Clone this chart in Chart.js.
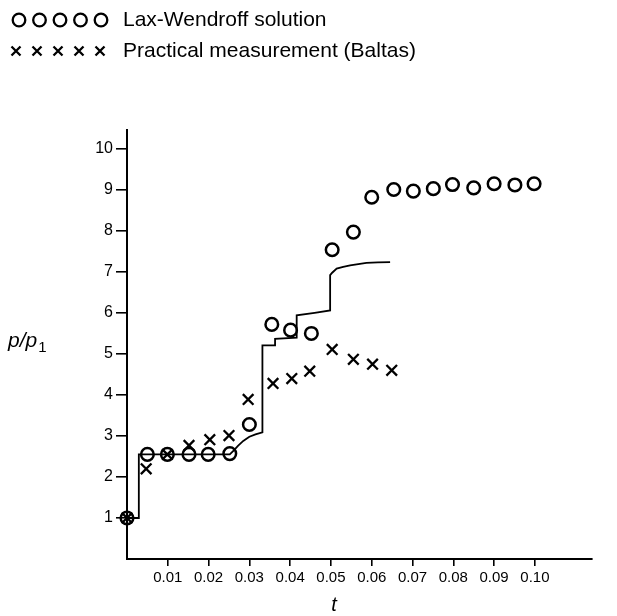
<!DOCTYPE html>
<html><head><meta charset="utf-8">
<script src="https://cdn.jsdelivr.net/npm/chart.js@4"></script>
<style>html,body{margin:0;padding:0;background:#fff}</style>
</head><body>
<canvas id="c" width="617" height="616"></canvas>
<script>
// Lax-Wendroff solution (circles)
const laxT = [0, 0.0050, 0.0099, 0.0152, 0.0199, 0.0252, 0.0300, 0.0355, 0.0401, 0.0452, 0.0503, 0.0555, 0.0600, 0.0654, 0.0702, 0.0751, 0.0798, 0.0850, 0.0900, 0.0951, 0.0998];
const laxP = [1.0, 2.55, 2.55, 2.55, 2.55, 2.57, 3.28, 5.72, 5.58, 5.50, 7.54, 7.97, 8.82, 9.01, 8.97, 9.03, 9.13, 9.05, 9.15, 9.12, 9.15];
// Practical measurement (Baltas) (crosses)
const baltasT = [0, 0.0047, 0.0099, 0.0152, 0.0203, 0.0250, 0.0297, 0.0358, 0.0404, 0.0448, 0.0503, 0.0555, 0.0602, 0.0649];
const baltasP = [1.0, 2.20, 2.55, 2.77, 2.91, 3.01, 3.89, 4.28, 4.40, 4.58, 5.11, 4.87, 4.75, 4.60];
// Solid curve
const curveT = [0, 0.0029, 0.0029, 0.0252, 0.0262, 0.0272, 0.0285, 0.0300, 0.0315, 0.0332, 0.0332, 0.0363, 0.0363, 0.0416, 0.0416, 0.0460, 0.0498, 0.0498, 0.0503, 0.0514, 0.0530, 0.0547, 0.0567, 0.0587, 0.0615, 0.0645];
const curveP = [1.0, 1.0, 2.55, 2.55, 2.65, 2.76, 2.88, 2.98, 3.04, 3.09, 5.21, 5.21, 5.37, 5.40, 5.94, 6.00, 6.06, 6.92, 6.98, 7.08, 7.12, 7.16, 7.19, 7.22, 7.23, 7.24];
const xTicks = [0.01, 0.02, 0.03, 0.04, 0.05, 0.06, 0.07, 0.08, 0.09, 0.10];
const yTicks = [1, 2, 3, 4, 5, 6, 7, 8, 9, 10];
const legendLabels = ['Lax-Wendroff solution', 'Practical measurement (Baltas)'];
const yTitle = 'p/p';
const yTitleSub = '1';
const xTitle = 't';

const FONT = '"Liberation Sans", Arial, Helvetica, sans-serif';
const toXY = (ts, ps) => ts.map((t, i) => ({x: t, y: ps[i]}));

const decor = {
  id: 'decor',
  afterDraw(chart) {
    const c = chart.ctx;
    c.save();
    c.fillStyle = '#000';
    c.strokeStyle = '#000';
    // legend row 1: circles
    c.lineWidth = 2.3;
    for (let i = 0; i < 5; i++) {
      c.beginPath();
      c.arc(19 + i * 20.5, 20, 6.3, 0, Math.PI * 2);
      c.stroke();
    }
    // legend row 2: crosses
    c.lineWidth = 2.3;
    for (let i = 0; i < 5; i++) {
      const cx = 16 + i * 21, cy = 51, r = 4.5;
      c.beginPath();
      c.moveTo(cx - r, cy - r); c.lineTo(cx + r, cy + r);
      c.moveTo(cx + r, cy - r); c.lineTo(cx - r, cy + r);
      c.stroke();
    }
    c.font = '21px ' + FONT;
    c.textBaseline = 'middle';
    c.textAlign = 'left';
    c.fillText(legendLabels[0], 123, 20);
    c.fillText(legendLabels[1], 123, 51);
    // y title
    c.font = 'italic 21px ' + FONT;
    c.textBaseline = 'alphabetic';
    c.fillText(yTitle, 8, 347);
    const w = c.measureText(yTitle).width;
    c.font = '15px ' + FONT;
    c.fillText(yTitleSub, 8 + w + 1, 352);
    // x title
    c.font = 'italic 20px ' + FONT;
    c.textAlign = 'center';
    c.fillText(xTitle, 334, 611);
    c.restore();
  }
};

new Chart(document.getElementById('c'), {
  type: 'scatter',
  data: {
    datasets: [
      {
        type: 'line', data: toXY(curveT, curveP), borderColor: '#000', borderWidth: 1.8,
        pointRadius: 0, fill: false, tension: 0, clip: false, order: 3
      },
      {
        data: toXY(laxT, laxP), pointStyle: 'circle', pointRadius: 6.3, pointBorderWidth: 2.5,
        borderColor: '#000', backgroundColor: 'rgba(0,0,0,0)', clip: false, order: 2
      },
      {
        data: toXY(baltasT, baltasP), pointStyle: 'crossRot', pointRadius: 7.5, pointBorderWidth: 2.3,
        borderColor: '#000', backgroundColor: '#000', clip: false, order: 1
      }
    ]
  },
  options: {
    responsive: false, animation: false, devicePixelRatio: 1,
    layout: {padding: {top: 130, right: 25, left: 0, bottom: 0}},
    plugins: {legend: {display: false}, tooltip: {enabled: false}},
    events: [],
    scales: {
      x: {
        type: 'linear', min: 0, max: 0.114,
        afterBuildTicks: s => { s.ticks = xTicks.map(v => ({value: v})); },
        afterFit: s => { s.height = 57; },
        ticks: {callback: v => v.toFixed(2), font: {size: 15, family: FONT}, color: '#000', padding: 3, maxRotation: 0, autoSkip: false},
        grid: {drawOnChartArea: false, drawTicks: true, tickLength: 7, color: '#000', lineWidth: 1.6},
        border: {display: true, color: '#000', width: 2}
      },
      y: {
        type: 'linear', min: 0, max: 10.46,
        afterBuildTicks: s => { s.ticks = yTicks.map(v => ({value: v})); },
        afterFit: s => { s.width = 127; },
        ticks: {font: {size: 16, family: FONT}, color: '#000', padding: 3, autoSkip: false},
        grid: {drawOnChartArea: false, drawTicks: true, tickLength: 11, color: '#000', lineWidth: 1.6},
        border: {display: true, color: '#000', width: 2}
      }
    }
  },
  plugins: [decor]
});
</script>
</body></html>
